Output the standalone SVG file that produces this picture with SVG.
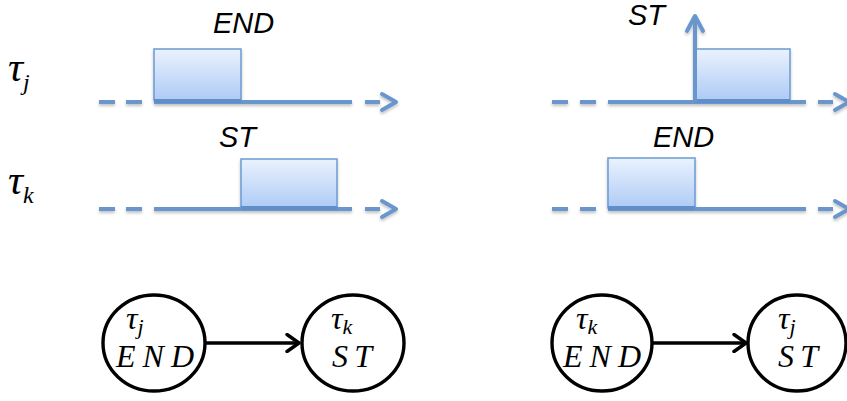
<svg xmlns="http://www.w3.org/2000/svg" width="847" height="401" viewBox="0 0 847 401">
  <defs>
    <linearGradient id="boxFill" x1="0" y1="0" x2="0" y2="1">
      <stop offset="0" stop-color="#eaf2fe"/>
      <stop offset="1" stop-color="#aecbf5"/>
    </linearGradient>
    <filter id="soft" x="-10%" y="-30%" width="120%" height="180%">
      <feDropShadow dx="0" dy="2" stdDeviation="1.5" flood-color="#000" flood-opacity="0.25"/>
    </filter>
    <marker id="chev" viewBox="0 0 16 20" refX="14" refY="10" markerWidth="16" markerHeight="20" markerUnits="userSpaceOnUse" orient="auto">
      <path d="M2,1.5 L14,10 L2,18.5" fill="none" stroke="#000" stroke-width="3.4" stroke-linecap="round" stroke-linejoin="round"/>
    </marker>
  </defs>
  <style>
    .axis { stroke: #6796cd; stroke-width: 4; fill: none; }
    .head { stroke: #6796cd; stroke-width: 4; fill: none; stroke-linecap: round; stroke-linejoin: round; }
    .box { fill: url(#boxFill); stroke: #6b9bd2; stroke-width: 1.5; }
    .lbl { font-family: "Liberation Sans", Arial, sans-serif; font-style: italic; font-size: 29px; fill: #000; }
    .tau { font-family: "Liberation Serif", "DejaVu Serif", serif; font-style: italic; fill: #000; }
    .node { fill: #fff; stroke: #000; stroke-width: 3.4; }
    .math { font-family: "Liberation Serif", "DejaVu Serif", serif; font-style: italic; font-size: 32px; fill: #000; }
    .link { stroke: #000; stroke-width: 3.6; fill: none; }
  </style>

  <!-- task labels on the left -->
  <text class="tau" x="8" y="81" font-size="42">τ<tspan font-size="24" dy="9">j</tspan></text>
  <text class="tau" x="8" y="194" font-size="42">τ<tspan font-size="24" dy="9">k</tspan></text>

  <!-- left panel: τj ends, then τk starts -->
  <g id="timeline-left-j" filter="url(#soft)">
    <path class="axis" d="M99,102 H115 M126,102 H142 M154,102 H352 M365,102 H380"/>
    <path class="head" d="M382,94 L396,102 L382,110"/>
    <rect class="box" x="154" y="49" width="87" height="51"/>
    <path d="M154,101 H241" stroke="#5f8fc8" stroke-width="4"/>
  </g>
  <text class="lbl" x="213" y="33">END</text>

  <g id="timeline-left-k" filter="url(#soft)">
    <path class="axis" d="M99,209 H115 M126,209 H142 M154,209 H352 M365,209 H380"/>
    <path class="head" d="M382,201 L396,209 L382,217"/>
    <rect class="box" x="241" y="159" width="96" height="49"/>
    <path d="M241,208 H337" stroke="#5f8fc8" stroke-width="4"/>
  </g>
  <text class="lbl" x="219" y="147">ST</text>

  <!-- right panel: τk ends, then τj starts -->
  <g id="timeline-right-j" filter="url(#soft)">
    <path class="axis" d="M552,102 H568 M580,102 H596 M608,102 H806 M818,102 H833"/>
    <path class="head" d="M835,94 L849,102 L835,110"/>
    <rect class="box" x="695" y="49" width="95" height="51"/>
    <path d="M695,101 H790" stroke="#5f8fc8" stroke-width="4"/>
    <path class="axis" d="M695,102 V17"/>
    <path class="head" d="M687,31 L695,16 L703,31"/>
  </g>
  <text class="lbl" x="628" y="25">ST</text>

  <g id="timeline-right-k" filter="url(#soft)">
    <path class="axis" d="M552,209 H568 M580,209 H596 M608,209 H806 M818,209 H833"/>
    <path class="head" d="M835,201 L849,209 L835,217"/>
    <rect class="box" x="608" y="158" width="87" height="50"/>
    <path d="M608,208 H695" stroke="#5f8fc8" stroke-width="4"/>
  </g>
  <text class="lbl" x="653" y="147">END</text>

  <!-- dependency graphs -->
  <g id="connectors">
    <path class="link" d="M205,343 H299" marker-end="url(#chev)"/>
    <path class="link" d="M652,343 H746" marker-end="url(#chev)"/>
  </g>

  <g id="node-left-j-end">
    <ellipse class="node" cx="154" cy="343" rx="51" ry="48"/>
    <text class="math" x="126" y="329" font-size="34">τ<tspan font-size="22" dy="5">j</tspan></text>
    <text class="math" x="155" y="367" text-anchor="middle" textLength="78" lengthAdjust="spacing">END</text>
  </g>
  <g id="node-left-k-st">
    <ellipse class="node" cx="353" cy="343" rx="51" ry="48"/>
    <text class="math" x="331" y="329" font-size="34">τ<tspan font-size="22" dy="5">k</tspan></text>
    <text class="math" x="352" y="367" text-anchor="middle" textLength="40" lengthAdjust="spacing">ST</text>
  </g>
  <g id="node-right-k-end">
    <ellipse class="node" cx="602" cy="343" rx="50" ry="48"/>
    <text class="math" x="576" y="329" font-size="34">τ<tspan font-size="22" dy="5">k</tspan></text>
    <text class="math" x="602" y="367" text-anchor="middle" textLength="78" lengthAdjust="spacing">END</text>
  </g>
  <g id="node-right-j-st">
    <ellipse class="node" cx="797" cy="343" rx="49" ry="48"/>
    <text class="math" x="778" y="329" font-size="34">τ<tspan font-size="22" dy="5">j</tspan></text>
    <text class="math" x="798" y="367" text-anchor="middle" textLength="40" lengthAdjust="spacing">ST</text>
  </g>
</svg>
